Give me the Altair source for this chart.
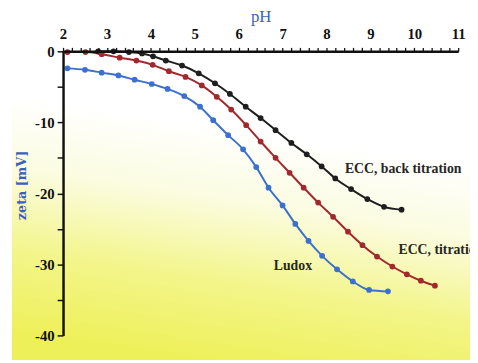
import altair as alt
import pandas as pd

# ---- data ----
back_ph = [2.8, 3.15, 3.5, 3.8, 4.05, 4.34, 4.71, 5.09, 5.46, 5.8, 6.16, 6.5, 6.84, 7.2, 7.55, 7.89, 8.2, 8.56, 8.93, 9.31, 9.71]
back_zeta = [0.0, 0.0, -0.1, -0.3, -0.7, -1.3, -2.0, -3.1, -4.5, -6.0, -7.8, -9.4, -11.1, -12.9, -14.5, -16.2, -17.9, -19.4, -20.8, -21.9, -22.3]

titr_ph = [2.1, 2.51, 2.88, 3.29, 3.67, 4.04, 4.41, 4.79, 5.16, 5.5, 5.83, 6.17, 6.5, 6.84, 7.16, 7.48, 7.81, 8.15, 8.49, 8.82, 9.15, 9.5, 9.83, 10.15, 10.47]
titr_zeta = [-0.1, -0.1, -0.4, -0.9, -1.3, -1.9, -2.8, -3.6, -4.8, -6.4, -8.2, -10.4, -12.7, -15.0, -17.1, -19.2, -21.3, -23.3, -25.4, -27.3, -28.9, -30.3, -31.4, -32.3, -33.0]

ludox_ph = [2.1, 2.5, 2.88, 3.26, 3.63, 4.02, 4.38, 4.76, 5.12, 5.42, 5.76, 6.1, 6.4, 6.68, 7.0, 7.29, 7.59, 7.9, 8.24, 8.6, 8.97, 9.4]
ludox_zeta = [-2.4, -2.6, -3.0, -3.4, -4.0, -4.6, -5.3, -6.3, -7.8, -9.7, -11.8, -13.8, -16.3, -19.2, -21.7, -24.3, -26.7, -28.8, -30.7, -32.4, -33.6, -33.8]

series_names = ["ECC, back titration", "ECC, titration", "Ludox"]
series_colors = ["#1e1e1e", "#a3282d", "#3b70cf"]

# annotation anchors (pH, zeta) for the series names
label_ph = [8.42, 9.64, 6.8]
label_zeta = [-16.6, -28.0, -30.3]

x_ticks = [round(2 + 0.2 * i, 1) for i in range(46)]
y_ticks = [0, -5, -10, -15, -20, -25, -30, -35, -40]

rows = []
for name, xs, ys in [(series_names[0], back_ph, back_zeta),
                     (series_names[1], titr_ph, titr_zeta),
                     (series_names[2], ludox_ph, ludox_zeta)]:
    for xv, yv in zip(xs, ys):
        rows.append({"series": name, "pH": xv, "zeta": yv})
df = pd.DataFrame(rows)
lab_df = pd.DataFrame({"series": series_names, "pH": label_ph, "zeta": label_zeta})

W, H = 402, 289
PL, PT, PR, PB = 56, 41, 12, 25

xscale = alt.Scale(domain=[2, 11], nice=False, zero=False)
yscale = alt.Scale(domain=[-40, 0], nice=False, zero=False)
cscale = alt.Scale(domain=series_names, range=series_colors)

gradient = alt.Gradient(
    gradient="linear",
    stops=[
        alt.GradientStop(color="#ffffff", offset=0),
        alt.GradientStop(color="#ffffff", offset=0.35),
        alt.GradientStop(color="#fbfce0", offset=0.55),
        alt.GradientStop(color="#f3f58a", offset=0.78),
        alt.GradientStop(color="#eef05a", offset=1),
    ],
    x1=0.62, y1=0, x2=0.42, y2=1,
)

bg = alt.Chart(pd.DataFrame({"a": [0]})).mark_rect(fill=gradient).encode(
    x=alt.value(-PL + 4), x2=alt.value(W + PR), y=alt.value(-PT), y2=alt.value(H + PB)
)

x_axis = alt.Axis(
    orient="top", values=x_ticks, title="pH", zindex=2,
    labelExpr="datum.value % 1 === 0 ? toString(datum.value) : ''",
    labelOverlap=False, labelFlush=False, tickSize=4, ticks=True, labels=True,
    grid=False, domainColor="#111111", domainWidth=2.5, tickColor="#111111", tickWidth=1.3,
    labelFont="Liberation Sans Narrow", labelFontWeight="bold", labelFontSize=15, labelColor="#111111",
    labelPadding=6, titleFont="Liberation Serif", titleFontSize=17, titleFontWeight="normal",
    titleColor="#3b5fc0", titlePadding=1,
)
y_axis = alt.Axis(
    values=y_ticks, title="zeta [mV]", zindex=2,
    labelExpr="datum.value % 10 === 0 ? toString(datum.value) : ''",
    labelOverlap=False, labelFlush=False, tickSize=6,
    grid=False, domainColor="#111111", domainWidth=2.5, tickColor="#111111", tickWidth=1.5,
    labelFont="Liberation Sans Narrow", labelFontWeight="bold", labelFontSize=15, labelColor="#111111",
    labelPadding=3, titleFont="DejaVu Serif", titleFontSize=13, titleFontWeight="bold",
    titleColor="#3b5fc0", titlePadding=6, titleY=136,
)

enc = dict(
    x=alt.X("pH:Q", scale=xscale, axis=x_axis),
    y=alt.Y("zeta:Q", scale=yscale, axis=y_axis),
)
base = alt.Chart(df).encode(
    color=alt.Color("series:N", scale=cscale, legend=None), **enc
)
lines = base.mark_line(strokeWidth=2, interpolate="monotone")
points = base.mark_circle(size=34, opacity=1)

labels = alt.Chart(lab_df).mark_text(
    align="left", baseline="middle", font="Liberation Serif", fontSize=14,
    fontWeight="bold", color="#262626"
).encode(text="series:N", **enc)

chart = alt.layer(bg, lines, points, labels).properties(
    width=W, height=H,
    autosize=alt.AutoSizeParams(type="none"),
    padding={"left": PL, "top": PT, "right": PR, "bottom": PB},
).configure_view(stroke=None)

chart.save("out.html", embed_options={"renderer": "svg", "actions": False})
